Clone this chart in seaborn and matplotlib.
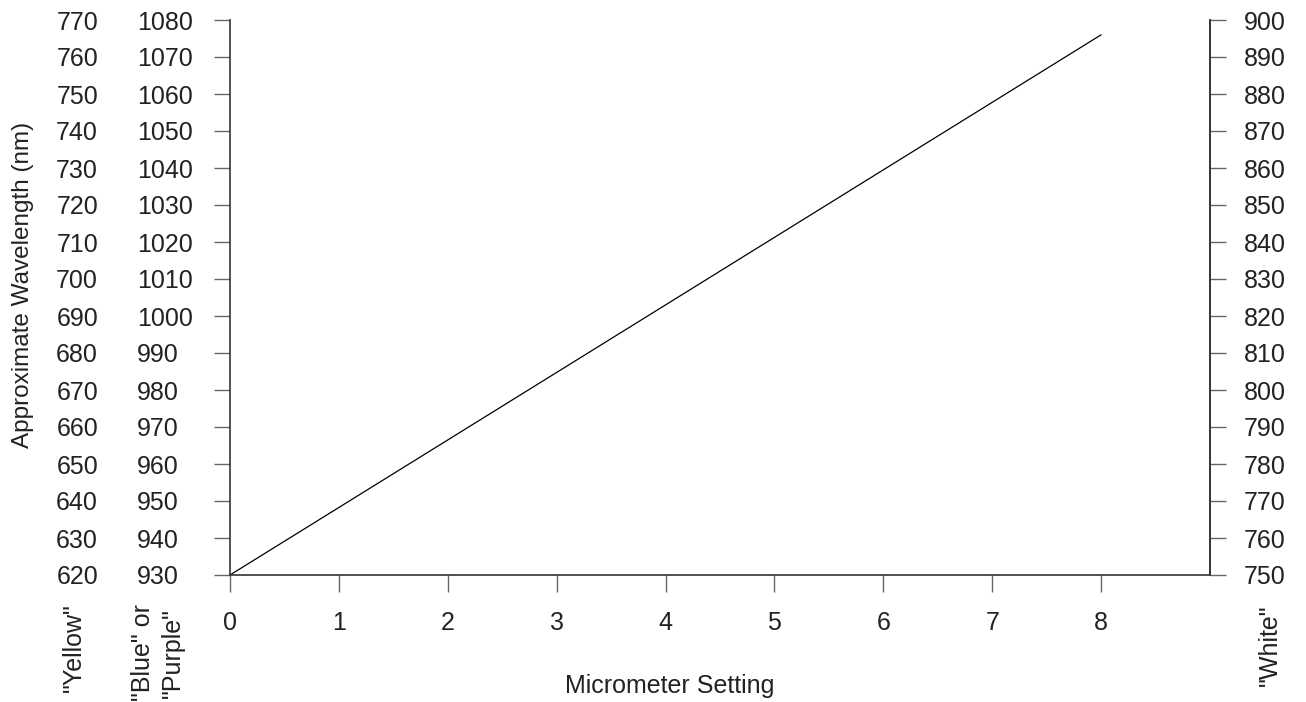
import matplotlib
matplotlib.use("Agg")
import matplotlib.pyplot as plt
import numpy as np
import pandas as pd
import seaborn as sns

# data
micrometer = [0, 8]
wavelength_yellow = [620, 766]      # left column scale (nm)
yellow_ticks = list(range(620, 771, 10))
blue_offset = 310                   # 620 -> 930
white_offset = 130                  # 620 -> 750
x_ticks = list(range(0, 9))

sns.set_theme(style="ticks")
plt.rcParams['font.family'] = ['Liberation Sans', 'DejaVu Sans']

fs = 18
text_col = "#222222"
spine_col = "#333333"
tick_col = "#666666"

fig = plt.figure(figsize=(13.06, 7.02), dpi=100)
ax = fig.add_axes([230 / 1306, 1 - 575 / 702, 980 / 1306, 555 / 702])

df = pd.DataFrame({"x": micrometer, "y": wavelength_yellow})
sns.lineplot(data=df, x="x", y="y", ax=ax, color="black", linewidth=0.9)

ax.set_xlim(0, 9)
ax.set_ylim(620, 770)
ax.set_xticks(x_ticks)
ax.set_yticks(yellow_ticks)
ax.tick_params(axis="x", direction="out", length=12, width=1, color=tick_col,
               labelsize=fs, labelcolor=text_col, pad=14)
ax.tick_params(axis="y", direction="out", length=11.5, width=1, color=tick_col,
               labelsize=fs, labelcolor=text_col, pad=83.5)
for lab in ax.get_yticklabels():
    lab.set_ha("right")

ax.spines["top"].set_visible(False)
for s in ["left", "bottom", "right"]:
    ax.spines[s].set_color(spine_col)
    ax.spines[s].set_linewidth(1.2)

# second left column: "Blue" or "Purple" scale
sec = ax.secondary_yaxis("left", functions=(lambda y: y + blue_offset,
                                            lambda y: y - blue_offset))
sec.set_yticks([t + blue_offset for t in yellow_ticks])
sec.tick_params(axis="y", length=0, labelsize=fs, labelcolor=text_col, pad=67)
sec.spines["left"].set_visible(False)
for lab in sec.get_yticklabels():
    lab.set_ha("left")

# right scale: "White"
ax2 = ax.twinx()
ax2.set_ylim(620 + white_offset, 770 + white_offset)
ax2.set_yticks([t + white_offset for t in yellow_ticks])
ax2.tick_params(axis="y", direction="out", length=11.5, width=1, color=tick_col,
                labelsize=fs, labelcolor=text_col, pad=13)
ax2.spines["top"].set_visible(False)
ax2.spines["left"].set_visible(False)
ax2.spines["bottom"].set_visible(False)
ax2.spines["right"].set_color(spine_col)
ax2.spines["right"].set_linewidth(1.2)

ax.set_xlabel("Micrometer Setting", fontsize=fs, color=text_col)
ax.xaxis.set_label_coords((670 - 230) / 980, (575 - 674) / 555)
ax.set_ylabel("Approximate Wavelength (nm)", fontsize=17.5, color=text_col)
ax.yaxis.set_label_coords((34 - 230) / 980, (575 - 285) / 555)

# scale names under each column
fig.text(74 / 1306, 1 - 603 / 702, '"Yellow"', rotation=90, ha="center", va="top",
         fontsize=fs, color=text_col)
fig.text(158 / 1306, 1 - 604 / 702, '"Blue" or\n"Purple"', rotation=90, ha="center",
         va="top", fontsize=fs, color=text_col, linespacing=1.3)
fig.text(1270 / 1306, 1 - 604 / 702, '"White"', rotation=90, ha="center", va="top",
         fontsize=fs, color=text_col)

fig.savefig("out.png", dpi=100, facecolor="white")
